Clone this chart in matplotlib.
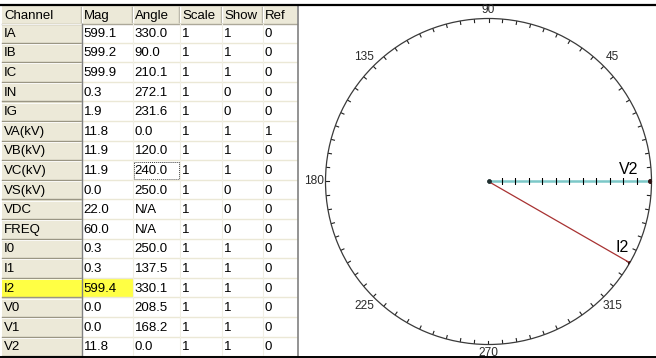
import numpy as np
import matplotlib
matplotlib.use("Agg")
import matplotlib.pyplot as plt
from matplotlib.patches import Rectangle

# ---------------- data ----------------
columns = ["Channel", "Mag", "Angle", "Scale", "Show", "Ref"]
channels = ["IA", "IB", "IC", "IN", "IG", "VA(kV)", "VB(kV)", "VC(kV)", "VS(kV)",
            "VDC", "FREQ", "I0", "I1", "I2", "V0", "V1", "V2"]
mags = ["599.1", "599.2", "599.9", "0.3", "1.9", "11.8", "11.9", "11.9", "0.0",
        "22.0", "60.0", "0.3", "0.3", "599.4", "0.0", "0.0", "11.8"]
angles = ["330.0", "90.0", "210.1", "272.1", "231.6", "0.0", "120.0", "240.0", "250.0",
          "N/A", "N/A", "250.0", "137.5", "330.1", "208.5", "168.2", "0.0"]
scales = ["1"] * 17
shows = ["1", "1", "1", "0", "0", "1", "1", "1", "0", "0", "0", "1", "1", "1", "1", "1", "1"]
refs = ["0", "0", "0", "0", "0", "1", "0", "0", "0", "0", "0", "0", "0", "0", "0", "0", "0"]

highlight_channel = "I2"
focus_cell = ("VC(kV)", "Angle")

# phasors drawn on the polar diagram
phasor_names = ["V2", "I2"]
phasor_mags = [11.8, 599.4]
phasor_angles = [0.0, 330.1]
phasor_full_scale = [11.9, 599.9]   # largest magnitude of each quantity group
phasor_colors = ["#7cc8c8", "#a83232"]
phasor_widths = [1.8, 0.9]
scale_divisions = 12

angle_labels = [0, 45, 90, 135, 180, 225, 270, 315]
minor_step = 5

# ---------------- figure ----------------
W, H = 656, 358
fig = plt.figure(figsize=(W / 100, H / 100), dpi=100)
fig.patch.set_facecolor("white")
FONT = "Liberation Sans"

# table axes in pixel coordinates
tab = fig.add_axes([0, 0, 1, 1])
tab.set_xlim(0, W)
tab.set_ylim(H, 0)
tab.axis("off")

col_edges = [2, 82, 133, 180, 222, 263, 297]
header_top, header_bot = 5, 23.5
row_h = 19.6
beige = "#ece9d8"
dark = "#aca899"

# header
tab.add_patch(Rectangle((col_edges[0], header_top), col_edges[-1] - col_edges[0],
                        header_bot - header_top, facecolor=beige, edgecolor="none"))
for j, name in enumerate(columns):
    tab.text(col_edges[j] + 2, (header_top + header_bot) / 2 + 1.5, name, fontsize=9.5,
             family=FONT, va="center", ha="left", color="black")
    if j > 0:
        tab.plot([col_edges[j] - 1, col_edges[j] - 1], [header_top + 2, header_bot - 2],
                 color=dark, lw=1)
        tab.plot([col_edges[j], col_edges[j]], [header_top + 2, header_bot - 2],
                 color="white", lw=1)
tab.plot([col_edges[0], col_edges[-1]], [header_bot, header_bot], color=dark, lw=1)

cols_data = [channels, mags, angles, scales, shows, refs]
for i, ch in enumerate(channels):
    y0 = header_bot + i * row_h
    y1 = y0 + row_h
    # channel cell
    fc = "#ffff44" if ch == highlight_channel else beige
    tab.add_patch(Rectangle((col_edges[0], y0), col_edges[1] - col_edges[0], row_h,
                            facecolor=fc, edgecolor="none"))
    tab.plot([col_edges[0], col_edges[1]], [y1 - 0.5, y1 - 0.5], color="#9a9684", lw=1)
    tab.plot([col_edges[0], col_edges[1]], [y0 + 0.6, y0 + 0.6], color="white", lw=0.6)
    # data cells
    for j in range(1, len(columns)):
        fcd = "#ffff44" if (ch == highlight_channel and j == 1) else "white"
        tab.add_patch(Rectangle((col_edges[j], y0), col_edges[j + 1] - col_edges[j], row_h,
                                facecolor=fcd, edgecolor="none"))
    tab.plot([col_edges[1], col_edges[-1]], [y1 - 0.5, y1 - 0.5], color="#ebe8d6", lw=1)
    for j in range(2, len(columns)):
        tab.plot([col_edges[j], col_edges[j]], [y0, y1], color="#f0eee4", lw=0.8)
    for j in range(len(columns)):
        tab.text(col_edges[j] + 1.5, (y0 + y1) / 2 + 0.5, cols_data[j][i], fontsize=9.5,
                 family=FONT, va="center", ha="left", color="black")
    if ch == focus_cell[0]:
        j = columns.index(focus_cell[1])
        tab.add_patch(Rectangle((col_edges[j] + 1, y0 + 1.5), col_edges[j + 1] - col_edges[j] - 2,
                                row_h - 3, facecolor="none", edgecolor="#404040",
                                lw=0.7, linestyle=(0, (1, 1))))

# vertical dividers
tab.plot([col_edges[1], col_edges[1]], [header_bot, H], color="#808080", lw=1)
tab.plot([col_edges[-1] + 1, col_edges[-1] + 1], [header_top, H], color="#808080", lw=1.2)
# outer borders
tab.plot([0, W], [4.5, 4.5], color="black", lw=1.6)
tab.plot([0, W], [356.5, 356.5], color="black", lw=1.4)

# ---------------- polar phasor diagram ----------------
cx, cy, R = 488.5, 181.5, 163.0
pol = fig.add_axes([(cx - R) / W, (H - cy - R) / H, 2 * R / W, 2 * R / H], projection="polar")
pol.set_facecolor("none")
pol.set_ylim(0, 1)
pol.set_yticks([])
pol.set_xticks([])
pol.grid(False)
pol.spines["polar"].set_color("#3a3a3a")
pol.spines["polar"].set_linewidth(0.9)

# 5-degree tick marks on the rim (inward)
tick_len = 3.5 / R
for deg in range(0, 360, minor_step):
    th = np.deg2rad(deg)
    pol.plot([th, th], [1 - tick_len, 1], color="#222222", lw=0.8, zorder=2)

# rim labels every 45 degrees
for deg in angle_labels:
    th = np.deg2rad(deg)
    off = 8.5 + 3.5 * abs(np.cos(th)) + 1.5 * abs(np.sin(2 * th))
    pol.annotate(str(deg), xy=(th, 1.0), xytext=(off * np.cos(th), off * np.sin(th)),
                 textcoords="offset pixels", ha="center", va="center", fontsize=8.6,
                 family=FONT, color="#2a2a2a", annotation_clip=False)

for name, m, a, fs, c, lw in zip(phasor_names, phasor_mags, phasor_angles,
                                 phasor_full_scale, phasor_colors, phasor_widths):
    th = np.deg2rad(a)
    r = m / fs
    pol.plot([th, th], [0, r], color=c, lw=lw, solid_capstyle="butt", zorder=3)
    pol.plot([th], [r], marker="o", ms=2.6, color="#301010", zorder=4)
    pol.plot([th], [0], marker="o", ms=2.2, color="#203030", zorder=4)

# scale divisions along the V2 phasor
v_th = np.deg2rad(phasor_angles[0])
v_r = phasor_mags[0] / phasor_full_scale[0]
div_r = np.arange(1, scale_divisions) / scale_divisions * v_r
pol.plot(np.full_like(div_r, v_th), div_r, linestyle="none", marker="|", ms=4,
         mew=0.8, color="black", zorder=4)

# phasor labels
pol.annotate(phasor_names[0], xy=(np.deg2rad(phasor_angles[0]), phasor_mags[0] / phasor_full_scale[0]),
             xytext=(-31, 4), textcoords="offset pixels", fontsize=11.5, family=FONT,
             ha="left", va="bottom", annotation_clip=False)
pol.annotate(phasor_names[1], xy=(np.deg2rad(phasor_angles[1]), phasor_mags[1] / phasor_full_scale[1]),
             xytext=(-14, 8), textcoords="offset pixels", fontsize=11.5, family=FONT,
             ha="left", va="bottom", annotation_clip=False)

fig.savefig("out.png", dpi=100)
